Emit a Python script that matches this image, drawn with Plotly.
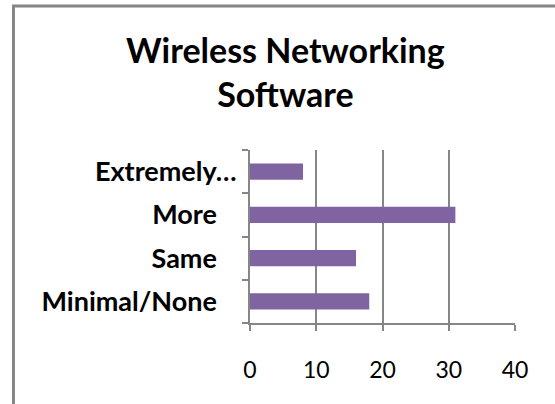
import plotly.graph_objects as go

# Survey responses, listed bottom-to-top as drawn
categories = ["Minimal/None", "Same", "More", "Extremely…"]
tick_labels = ["Minimal/None\u00a0\u00a0\u00a0", "Same\u00a0\u00a0\u00a0", "More\u00a0\u00a0\u00a0", "Extremely…"]
counts = [18, 16, 31, 8]
x_ticks = [0, 10, 20, 30, 40]
title_text = "Wireless Networking<br>Software"

W, H = 555, 404
L, R, T, B = 250, 40, 150, 81
pw, ph = W - L - R, H - T - B

grey = "#868686"
purple = "#8064A2"
font = "Lato, 'Open Sans', sans-serif"

fig = go.Figure(
    go.Bar(
        x=counts,
        y=categories,
        orientation="h",
        marker=dict(color=purple, line=dict(width=0)),
        hoverinfo="x+y",
    )
)

fig.update_layout(
    width=W,
    height=H,
    margin=dict(l=L, r=R, t=T, b=B),
    paper_bgcolor="white",
    plot_bgcolor="white",
    bargap=0.62,
    showlegend=False,
    xaxis=dict(
        range=[0, 40],
        tickvals=x_ticks,
        ticktext=[str(v) for v in x_ticks],
        showgrid=True,
        gridcolor=grey,
        gridwidth=1.5,
        showline=True,
        linecolor=grey,
        linewidth=2,
        ticks="outside",
        ticklen=6,
        tickcolor=grey,
        tickwidth=2,
        tickfont=dict(family=font, size=23, color="black"),
        ticklabelstandoff=19,
        zeroline=False,
        fixedrange=True,
    ),
    yaxis=dict(
        type="category",
        categoryorder="array",
        categoryarray=categories,
        tickvals=categories,
        ticktext=tick_labels,
        tickson="boundaries",
        showline=True,
        linecolor=grey,
        linewidth=2,
        ticks="outside",
        ticklen=6,
        tickcolor=grey,
        tickwidth=2,
        showgrid=False,
        tickfont=dict(family=font, size=27, color="black", weight="bold"),
        ticklabelstandoff=6,
        fixedrange=True,
    ),
    annotations=[
        dict(
            text="<b>" + title_text + "</b>",
            xref="paper", yref="paper",
            x=(285 - L) / pw, y=1 + (T - 72) / ph,
            xanchor="center", yanchor="middle",
            showarrow=False,
            font=dict(family=font, size=34, color="black"),
        )
    ],
    shapes=[
        # chart-area frame: left and top edges
        dict(type="line", xref="paper", yref="paper",
             x0=(13.5 - L) / pw, x1=(13.5 - L) / pw,
             y0=1 + (T - 5) / ph, y1=-1,
             line=dict(color=grey, width=3)),
        dict(type="line", xref="paper", yref="paper",
             x0=(12 - L) / pw, x1=2,
             y0=1 + (T - 6) / ph, y1=1 + (T - 6) / ph,
             line=dict(color=grey, width=3)),
    ],
)

fig.write_html("out.html")
